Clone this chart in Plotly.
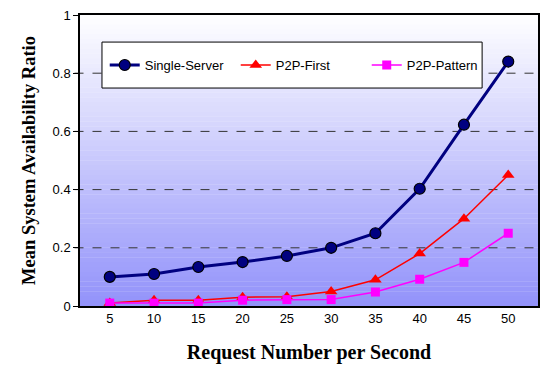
import plotly.graph_objects as go

categories = ["5", "10", "15", "20", "25", "30", "35", "40", "45", "50"]
single_server = [0.100, 0.110, 0.134, 0.151, 0.172, 0.200, 0.250, 0.403, 0.623, 0.840]
p2p_first = [0.010, 0.020, 0.020, 0.030, 0.032, 0.050, 0.090, 0.180, 0.300, 0.450]
p2p_pattern = [0.010, 0.010, 0.010, 0.020, 0.022, 0.022, 0.048, 0.092, 0.150, 0.250]
y_ticks = [0, 0.2, 0.4, 0.6, 0.8, 1]
y_tick_labels = ["0", "0.2", "0.4", "0.6", "0.8", "1"]

fig = go.Figure()
fig.add_trace(go.Scatter(x=categories, y=single_server, name="Single-Server", mode="lines+markers",
                         line=dict(color="#000080", width=3),
                         marker=dict(symbol="circle", size=11, color="#000080", line=dict(color="black", width=1.2))))
fig.add_trace(go.Scatter(x=categories, y=p2p_first, name="P2P-First", mode="lines+markers",
                         line=dict(color="#FF0000", width=1.5),
                         marker=dict(symbol="triangle-up", size=11, color="#FF0000")))
fig.add_trace(go.Scatter(x=categories, y=p2p_pattern, name="P2P-Pattern", mode="lines+markers",
                         line=dict(color="#FF00FF", width=1.5),
                         marker=dict(symbol="square", size=9, color="#FF00FF")))

# gradient background
shapes = []
n = 60
top = (255, 255, 255)
bot = (146, 146, 250)
for i in range(n):
    t = (i + 0.5) / n
    c = tuple(int(round(top[k] + (bot[k] - top[k]) * t)) for k in range(3))
    shapes.append(dict(type="rect", xref="x domain", yref="y domain",
                       x0=0, x1=1, y0=1 - (i + 1) / n, y1=1 - i / n + 0.001,
                       fillcolor="rgb(%d,%d,%d)" % c, line=dict(width=0), layer="below"))
for v in y_ticks[1:-1]:
    shapes.append(dict(type="line", xref="x domain", yref="y", x0=-0.012, x1=1, y0=v, y1=v,
                       line=dict(color="#333333", width=1, dash="dash"), layer="below"))
# legend box
shapes.append(dict(type="rect", xref="paper", yref="paper", x0=0.048, x1=0.878, y0=0.749, y1=0.907,
                   fillcolor="white", line=dict(color="black", width=1), layer="below"))

fig.update_layout(
    width=540, height=367,
    margin=dict(l=80, r=2, t=15, b=61, autoexpand=False),
    paper_bgcolor="white", plot_bgcolor="white",
    shapes=shapes,
    showlegend=True,
    legend=dict(orientation="h", x=0.054, y=0.828, xanchor="left", yanchor="middle",
                bgcolor="rgba(0,0,0,0)", borderwidth=0,
                font=dict(family="Liberation Sans, Arial", size=13, color="black"),
                tracegroupgap=0, entrywidth=86),
    xaxis=dict(type="category", showgrid=False, showline=True, linecolor="black", linewidth=1.5,
               mirror=True, ticks="", automargin=False,
               tickfont=dict(family="Liberation Sans, Arial", size=13, color="black"),
               title=dict(text="<b>Request Number per Second</b>",
                          font=dict(family="Liberation Serif, Times New Roman", size=20, color="black"),
                          standoff=20)),
    yaxis=dict(range=[0, 1], tickvals=y_ticks, ticktext=y_tick_labels, showgrid=False,
               showline=True, linecolor="black", linewidth=1.5, mirror=True, ticks="outside",
               ticklen=5, tickcolor="black", zeroline=False, automargin=False,
               tickfont=dict(family="Liberation Sans, Arial", size=13, color="black"),
               title=dict(text="<b>Mean System Availability Ratio</b>",
                          font=dict(family="Liberation Serif, Times New Roman", size=18.5, color="black"),
                          standoff=12)),
)

fig.write_html("out.html", config={"displayModeBar": False},
               post_script="document.body.style.margin='0';document.body.style.padding='0';")
